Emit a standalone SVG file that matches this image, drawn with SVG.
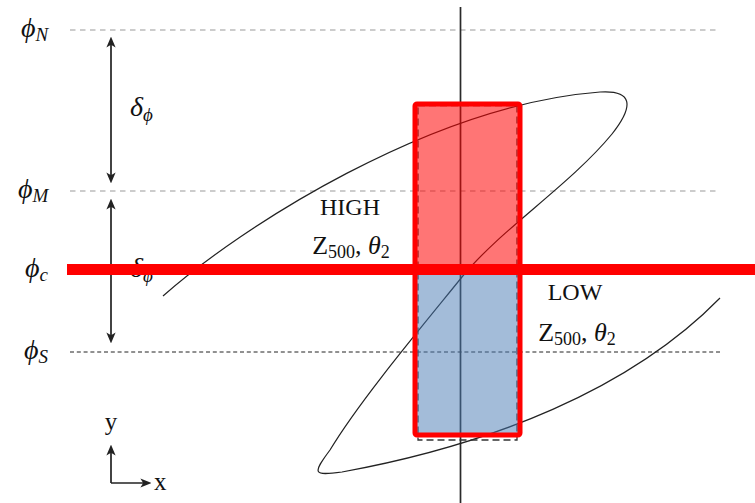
<svg xmlns="http://www.w3.org/2000/svg" width="755" height="503" viewBox="0 0 755 503">
<style>
.lbl{font-family:"Liberation Serif","DejaVu Serif",serif;fill:#111}
.it{font-style:italic}
.ref{stroke:#9a9a9a;stroke-width:1.2;stroke-dasharray:5.5 4.5;fill:none}
.refs{stroke:#222;stroke-width:1;stroke-dasharray:4 2.8;fill:none}
.arr{stroke:#222;stroke-width:1.7;fill:none}
</style>
<defs>
<marker id="ah" viewBox="0 0 10 10" refX="6" refY="5" markerWidth="11" markerHeight="11" markerUnits="userSpaceOnUse" orient="auto-start-reverse">
<path d="M0,0.8 L10,5 L0,9.2 L2.5,5 Z" fill="#222"/>
</marker>
</defs>

<g id="reference-lines">
<line class="ref" x1="70" y1="30" x2="720" y2="30"/>
<line class="ref" x1="70" y1="191" x2="720" y2="191"/>
<line class="refs" x1="70" y1="352" x2="720" y2="352"/>
</g>

<g id="axis">
<line x1="460.5" y1="7" x2="460.5" y2="503" stroke="#2a2a2a" stroke-width="1.7"/>
</g>

<g id="curve">
<path d="M163,296 C240,228 430,105 600,92 C632,90 635,105 612,134 C570,185 500,230 462,277 C424,324 360,400 330,450 C312,474 313,476 342,472 C490,445 630,390 720,298" fill="none" stroke="#222" stroke-width="1.2"/>
</g>

<g id="box">
<rect x="418" y="105.5" width="99" height="334.5" fill="none" stroke="#333" stroke-width="1.3" stroke-dasharray="7 4"/>
<rect x="415" y="104" width="105" height="165" fill="#ff0000" fill-opacity="0.54"/>
<rect x="415" y="269" width="105" height="166" fill="#4779b3" fill-opacity="0.5"/>
</g>

<g id="labels-left">
<text class="lbl" x="21" y="37" font-size="28"><tspan class="it">ϕ</tspan><tspan class="it" font-size="19" dy="4">N</tspan></text>
<text class="lbl" x="18" y="198" font-size="28"><tspan class="it">ϕ</tspan><tspan class="it" font-size="19" dy="4">M</tspan></text>
<text class="lbl" x="25" y="277" font-size="28"><tspan class="it">ϕ</tspan><tspan class="it" font-size="19" dy="4">c</tspan></text>
<text class="lbl" x="24" y="359" font-size="28"><tspan class="it">ϕ</tspan><tspan class="it" font-size="19" dy="4">S</tspan></text>
</g>

<g id="connectors">
<line class="arr" x1="111" y1="41" x2="111" y2="179" marker-start="url(#ah)" marker-end="url(#ah)"/>
<line class="arr" x1="111" y1="203" x2="111" y2="339" marker-start="url(#ah)" marker-end="url(#ah)"/>
<line class="arr" x1="111" y1="483" x2="111" y2="449" marker-end="url(#ah)"/>
<line class="arr" x1="111" y1="483" x2="147" y2="483" marker-end="url(#ah)"/>
</g>

<g id="delta-labels">
<text class="lbl" x="130" y="116" font-size="28"><tspan class="it">δ</tspan><tspan class="it" font-size="19" dy="5">ϕ</tspan></text>
<text class="lbl" x="130" y="277" font-size="28"><tspan class="it">δ</tspan><tspan class="it" font-size="19" dy="5">ϕ</tspan></text>
</g>

<g id="high">
<text class="lbl" x="350" y="215" font-size="24" text-anchor="middle">HIGH</text>
<text class="lbl" x="351" y="254" font-size="26" text-anchor="middle">Z<tspan font-size="18" dy="4">500</tspan><tspan dy="-4">, </tspan><tspan class="it">θ</tspan><tspan font-size="18" dy="4">2</tspan></text>
</g>

<g id="low">
<text class="lbl" x="575" y="300" font-size="24" text-anchor="middle">LOW</text>
<text class="lbl" x="577" y="341" font-size="26" text-anchor="middle">Z<tspan font-size="18" dy="4">500</tspan><tspan dy="-4">, </tspan><tspan class="it">θ</tspan><tspan font-size="18" dy="4">2</tspan></text>
</g>

<g id="axes-labels">
<text class="lbl" x="111" y="430" font-size="25" text-anchor="middle">y</text>
<text class="lbl" x="154" y="490" font-size="25">x</text>
</g>

<g id="highlight">
<rect x="415" y="104" width="105" height="331" rx="2" fill="none" stroke="#ff0000" stroke-width="5"/>
<rect x="67" y="264" width="688" height="11" fill="#ff0000"/>
</g>
</svg>
